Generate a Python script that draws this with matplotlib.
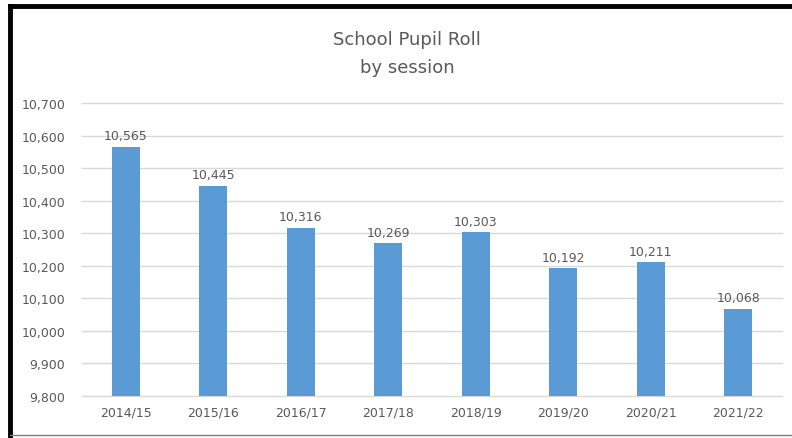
import matplotlib.pyplot as plt
from matplotlib.lines import Line2D

# data
sessions = ["2014/15", "2015/16", "2016/17", "2017/18", "2018/19", "2019/20", "2020/21", "2021/22"]
pupils = [10565, 10445, 10316, 10269, 10303, 10192, 10211, 10068]
y_ticks = [9800, 9900, 10000, 10100, 10200, 10300, 10400, 10500, 10600, 10700]

grey = "#595959"
plt.rcParams["font.family"] = ["DejaVu Sans"]

fig = plt.figure(figsize=(7.92, 4.39), dpi=100)
ax = fig.add_axes([82 / 792, 42 / 439, 700 / 792, 293 / 439])

x = range(len(sessions))
bars = ax.bar(x, [p - 9800 for p in pupils], bottom=9800, width=0.32, color="#5B9BD5", zorder=3)
for xi, p in zip(x, pupils):
    ax.text(xi, p + 14, f"{p:,}", ha="center", va="bottom", fontsize=9, color=grey)

ax.set_xlim(-0.5, len(sessions) - 0.5)
ax.set_ylim(9800, 10700)
ax.set_yticks(y_ticks)
ax.set_yticklabels([f"{t:,}" for t in y_ticks])
ax.set_xticks(list(x))
ax.set_xticklabels(sessions)
ax.tick_params(axis="both", length=0, labelsize=9, labelcolor=grey)
ax.tick_params(axis="y", pad=12)
ax.tick_params(axis="x", pad=7)
ax.grid(axis="y", color="#D9D9D9", linewidth=1, zorder=0)
for gl in ax.get_ygridlines():
    gl.set_clip_on(False)
for s in ax.spines.values():
    s.set_visible(False)

fig.text(407 / 792, 1 - 40 / 439, "School Pupil Roll", ha="center", va="center", fontsize=13, color=grey)
fig.text(407 / 792, 1 - 68 / 439, "by session", ha="center", va="center", fontsize=13, color=grey)

# frame around the chart
fig.add_artist(Line2D([10 / 792, 1], [1 - 7 / 439, 1 - 7 / 439], transform=fig.transFigure, color="black", linewidth=3.5))
fig.add_artist(Line2D([10 / 792, 10 / 792], [1 - 7 / 439, 0], transform=fig.transFigure, color="black", linewidth=3.5))
fig.add_artist(Line2D([10 / 792, 1], [3 / 439, 3 / 439], transform=fig.transFigure, color="#7F7F7F", linewidth=1))

plt.savefig("out.png", dpi=100)
plt.close()
